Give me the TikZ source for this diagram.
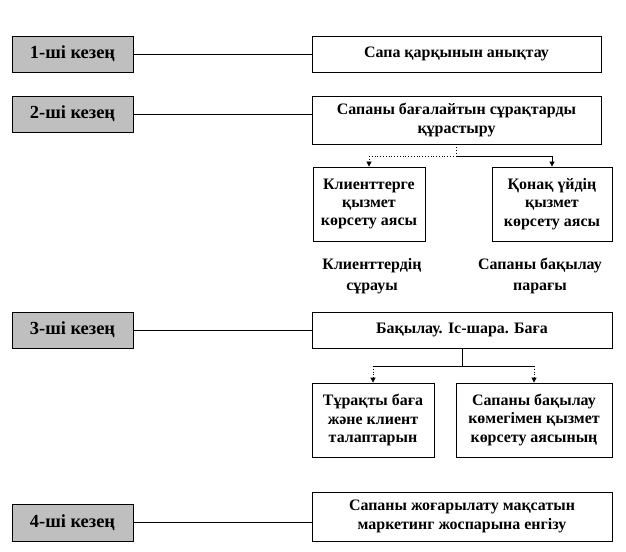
\documentclass[tikz,border=0pt]{standalone}
\usepackage{fontspec}
\setmainfont{Liberation Serif}
\usetikzlibrary{arrows.meta}
\begin{document}
\begin{tikzpicture}[x=1bp,y=-1bp,
  stagebox/.style={draw=black,line width=0.8bp,fill=black!25,minimum width=121bp,minimum height=36bp,inner sep=0pt,font=\bfseries\fontsize{18.5}{20}\selectfont},
  mainbox/.style={draw=black,line width=0.8bp,fill=white,inner sep=2bp,align=center,font=\bfseries\fontsize{16}{18.5}\selectfont},
  plaintext/.style={align=center,font=\bfseries\fontsize{16}{21}\selectfont},
  link/.style={line width=0.8bp},
  arr/.style={line width=0.8bp,-{Triangle[width=5bp,length=5bp]}},
  dotarr/.style={line width=0.8bp,dotted,-{Triangle[width=5bp,length=5bp]}}
]
\useasboundingbox (0,0) rectangle (626,552);
% stage boxes
\node[stagebox] (s1) at (72.5,54) {1-ші кезең};
\node[stagebox] (s2) at (72.5,114) {2-ші кезең};
\node[stagebox] (s3) at (72.5,330) {3-ші кезең};
\node[stagebox,minimum height=37bp] (s4) at (72.5,522.5) {4-ші кезең};
% main boxes
\node[mainbox,minimum width=289bp,minimum height=36bp] (b1) at (456.5,54) {Сапа қарқынын анықтау};
\node[mainbox,minimum width=289bp,minimum height=48bp] (b2) at (456.5,120) {Сапаны бағалайтын сұрақтарды\\құрастыру};
\node[mainbox,minimum width=112bp,minimum height=74bp] (c1) at (369,204) {Клиенттерге\\қызмет\\көрсету аясы};
\node[mainbox,minimum width=120bp,minimum height=74bp] (c2) at (552,204) {Қонақ үйдің\\қызмет\\көрсету аясы};
\node[plaintext] (t1) at (372,276) {Клиенттердің\\сұрауы};
\node[plaintext] (t2) at (540,276) {Сапаны бақылау\\парағы};
\node[mainbox,minimum width=300bp,minimum height=36bp] (b3) at (462,330) {Бақылау. Іс-шара. Баға};
\node[mainbox,minimum width=122bp,minimum height=74bp] (d1) at (373,420) {Тұрақты баға\\және клиент\\талаптарын};
\node[mainbox,minimum width=156bp,minimum height=74bp] (d2) at (534,420) {Сапаны бақылау\\көмегімен қызмет\\көрсету аясының};
\node[mainbox,minimum width=300bp,minimum height=49bp] (b4) at (462,516.5) {Сапаны жоғарылату мақсатын\\маркетинг жоспарына енгізу};
% stage links
\draw[link] (s1.east) -- (b1.west);
\draw[link] (s2.east) -- (s2.east -| b2.west);
\draw[link] (s3.east) -- (b3.west);
\draw[link] (s4.east) -- (s4.east -| b4.west);
% branch 2
\coordinate (j2) at (456,156);
\coordinate (k2a) at (c1.north |- j2);
\coordinate (k2b) at (c2.north |- j2);
\draw[link,dotted] (b2.south -| j2) -- (j2) -- (k2a);
\draw[link] (j2) -- (k2b);
\draw[dotarr] (k2a) -- (c1.north);
\draw[arr] (k2b) -- (c2.north);
% branch 3
\coordinate (j3) at (462,366);
\coordinate (k3a) at (d1.north |- j3);
\coordinate (k3b) at (d2.north |- j3);
\draw[link] (b3.south -| j3) -- (j3);
\draw[link] (k3a) -- (k3b);
\draw[dotarr] (k3a) -- (d1.north);
\draw[dotarr] (k3b) -- (d2.north);
\end{tikzpicture}
\end{document}
